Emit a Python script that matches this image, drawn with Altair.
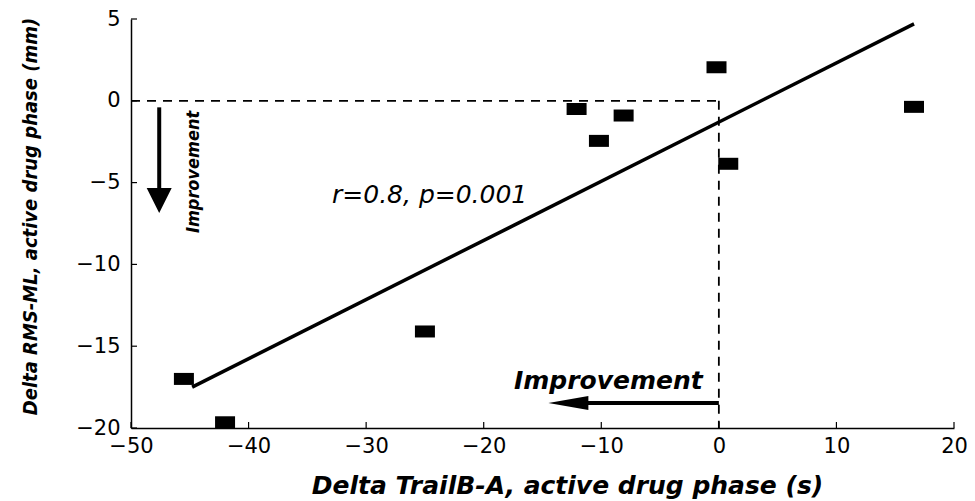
import altair as alt
import pandas as pd

# ---- data ----
x_vals = [-45.5, -42.0, -25.0, -12.1, -10.2, -8.1, -0.2, 0.8, 16.6]
y_vals = [-17.0, -19.65, -14.1, -0.5, -2.45, -0.9, 2.05, -3.85, -0.37]

reg_x = [-44.8, 16.6]
reg_y = [-17.5, 4.7]

x_ticks = [-50, -40, -30, -20, -10, 0, 10, 20]
y_ticks = [-20, -15, -10, -5, 0, 5]

x_domain = [-50, 20]
y_domain = [-20, 5]

W, H = 823, 409
NARROW = "DejaVu Sans Condensed, Roboto Condensed, Roboto, sans-serif"

pts = pd.DataFrame({"x": x_vals, "y": y_vals})
reg = pd.DataFrame({"x": reg_x, "y": reg_y})

xscale = alt.Scale(domain=x_domain, nice=False, zero=False)
yscale = alt.Scale(domain=y_domain, nice=False, zero=False)

x_axis = alt.Axis(
    values=x_ticks, grid=False, ticks=False, domainColor="black", domainWidth=1.5,
    labelFont="DejaVu Sans", labelFontSize=21, labelColor="black", labelPadding=7, labelFlush=False,
    title="Delta TrailB-A, active drug phase (s)",
    titleFont="DejaVu Sans", titleFontSize=25, titleFontWeight="bold", titleFontStyle="italic",
    titleColor="black", titleX=436, titleY=45, titleAlign="center", titleBaseline="top",
)
y_axis = alt.Axis(
    values=y_ticks, grid=False, ticks=False, domainColor="black", domainWidth=1.5,
    labelFont="DejaVu Sans", labelFontSize=21, labelColor="black", labelPadding=11, labelFlush=False,
    title="Delta RMS-ML, active drug phase (mm)",
    titleFont=NARROW, titleFontSize=20, titleFontWeight="bold", titleFontStyle="italic",
    titleColor="black", titleX=-101, titleY=197, titleAngle=270, titleAlign="center", titleBaseline="middle",
)

X = alt.X("x:Q", scale=xscale, axis=x_axis)
Y = alt.Y("y:Q", scale=yscale, axis=y_axis)

# scatter markers (small black rectangles)
points = alt.Chart(pts).mark_point(
    shape="M-1,-0.6L1,-0.6L1,0.6L-1,0.6Z", filled=True, size=400, color="black", opacity=1
).encode(x=X, y=Y)

# regression line
line = alt.Chart(reg).mark_line(color="black", strokeWidth=3.5).encode(
    x=alt.X("x:Q", scale=xscale), y=alt.Y("y:Q", scale=yscale))

# dashed reference lines
dash_df = pd.DataFrame({"x": [-50, 0], "x2": [0, 0], "y": [0, 0], "y2": [0, -20]})
dashes = alt.Chart(dash_df).mark_rule(color="black", strokeWidth=1.8, strokeDash=[9, 7]).encode(
    x=alt.X("x:Q", scale=xscale), x2="x2:Q", y=alt.Y("y:Q", scale=yscale), y2="y2:Q")

# inward ticks
xt = alt.Chart(pd.DataFrame({"v": x_ticks})).mark_rule(color="black", strokeWidth=1.2).encode(
    x=alt.X("v:Q", scale=xscale), y=alt.value(H), y2=alt.value(H - 6))
yt = alt.Chart(pd.DataFrame({"v": y_ticks})).mark_rule(color="black", strokeWidth=1.2).encode(
    y=alt.Y("v:Q", scale=yscale), x=alt.value(0), x2=alt.value(6))

# arrows
shafts_df = pd.DataFrame({"x": [-47.6, 0.0], "x2": [-47.6, -12.0], "y": [-0.4, -18.47], "y2": [-5.6, -18.47]})
shafts = alt.Chart(shafts_df).mark_rule(color="black", strokeWidth=4).encode(
    x=alt.X("x:Q", scale=xscale), x2="x2:Q", y=alt.Y("y:Q", scale=yscale), y2="y2:Q")

head_down = alt.Chart(pd.DataFrame({"x": [-47.6], "y": [-6.1]})).mark_point(
    shape="M-1,-1L1,-1L0,1Z", filled=True, size=625, color="black", opacity=1
).encode(x=alt.X("x:Q", scale=xscale), y=alt.Y("y:Q", scale=yscale))

head_left = alt.Chart(pd.DataFrame({"x": [-12.8], "y": [-18.47]})).mark_point(
    shape="M1,-0.35L1,0.35L-1,0Z", filled=True, size=1600, color="black", opacity=1
).encode(x=alt.X("x:Q", scale=xscale), y=alt.Y("y:Q", scale=yscale))

# texts
t_r = alt.Chart(pd.DataFrame({"x": [-24.6], "y": [-5.75], "t": ["r=0.8, p=0.001"]})).mark_text(
    font="DejaVu Sans", fontSize=25, fontStyle="italic", color="black", align="center", baseline="middle"
).encode(x=alt.X("x:Q", scale=xscale), y=alt.Y("y:Q", scale=yscale), text="t:N")

t_h = alt.Chart(pd.DataFrame({"x": [-9.4], "y": [-17.1], "t": ["Improvement"]})).mark_text(
    font="DejaVu Sans", fontSize=25, fontStyle="italic", fontWeight="bold", color="black",
    align="center", baseline="middle"
).encode(x=alt.X("x:Q", scale=xscale), y=alt.Y("y:Q", scale=yscale), text="t:N")

t_v = alt.Chart(pd.DataFrame({"x": [-44.6], "y": [-4.35], "t": ["Improvement"]})).mark_text(
    font=NARROW, fontSize=18, fontStyle="italic", fontWeight="bold", color="black",
    align="center", baseline="middle", angle=270
).encode(x=alt.X("x:Q", scale=xscale), y=alt.Y("y:Q", scale=yscale), text="t:N")

chart = alt.layer(
    dashes, xt, yt, line, points, shafts, head_down, head_left, t_r, t_h, t_v
).properties(
    width=W, height=H,
    autosize=alt.AutoSizeParams(type="none"),
    padding={"left": 123, "top": 11, "right": 13, "bottom": 72},
).configure_view(strokeWidth=0)

chart.save("out.html", embed_options={"renderer": "svg", "actions": False})
